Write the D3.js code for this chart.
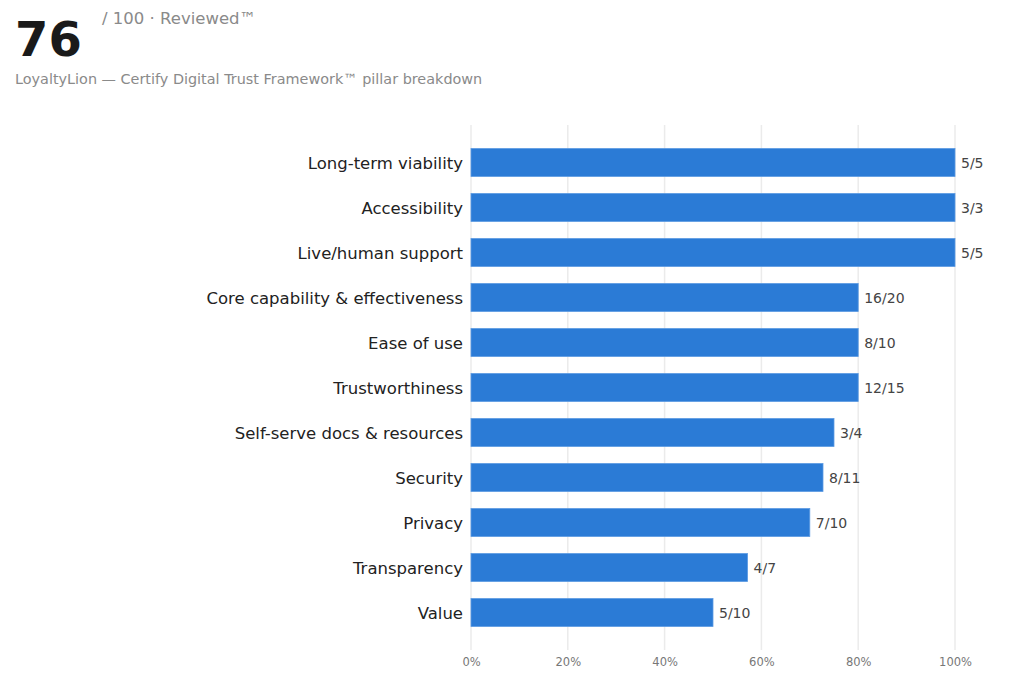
<!DOCTYPE html>
<html>
<head>
<meta charset="utf-8">
<script src="https://cdn.jsdelivr.net/npm/d3@7"></script>
<style>
  body { margin: 0; background: #fff; }
  svg text { font-family: "DejaVu Sans", sans-serif; }
  .score { font-size: 48px; font-weight: bold; fill: #1a1a1a; }
  .scoreNote { font-size: 16.5px; fill: #8a8a8a; }
  .subtitle { font-size: 14.4px; fill: #8a8a8a; }
  .pillarLabel { font-size: 16.5px; fill: #222; }
  .valueLabel { font-size: 14px; fill: #444; }
  .tickLabel { font-size: 11.5px; fill: #777; }
</style>
</head>
<body>
<div id="chart"></div>
<script>
// pillar names, top to bottom
var pillars = ["Long-term viability", "Accessibility", "Live/human support",
    "Core capability & effectiveness", "Ease of use", "Trustworthiness",
    "Self-serve docs & resources", "Security", "Privacy", "Transparency", "Value"];
var earned = [5, 3, 5, 16, 8, 12, 3, 8, 7, 4, 5];
var possible = [5, 3, 5, 20, 10, 15, 4, 11, 10, 7, 10];
var tickValues = [0, 20, 40, 60, 80, 100];

var width = 1024, height = 693;
var margin = {top: 125, right: 69, bottom: 43, left: 471};

var svg = d3.select("#chart").append("svg")
    .attr("width", width)
    .attr("height", height);

// header
svg.append("text").attr("class", "score").attr("x", 15).attr("y", 56).text("76");
svg.append("text").attr("class", "scoreNote").attr("x", 102).attr("y", 24).text("/ 100 · Reviewed™");
svg.append("text").attr("class", "subtitle").attr("x", 15).attr("y", 84)
    .text("LoyaltyLion — Certify Digital Trust Framework™ pillar breakdown");

var x = d3.scaleLinear()
    .domain([0, 100])
    .range([margin.left, width - margin.right]);

var y = d3.scaleBand()
    .domain(pillars)
    .range([margin.top, height - margin.bottom])
    .paddingInner(0.378)
    .paddingOuter(0.522);

// grid lines
svg.append("g").selectAll("line")
    .data(tickValues)
    .enter()
    .append("line")
    .attr("x1", function(d){ return x(d); })
    .attr("x2", function(d){ return x(d); })
    .attr("y1", margin.top)
    .attr("y2", height - margin.bottom)
    .attr("stroke", "#ebebeb")
    .attr("stroke-width", 1.5);

// x axis labels
var xAxis = d3.axisBottom(x)
    .tickValues(tickValues)
    .tickSize(0)
    .tickPadding(0)
    .tickFormat(function(d){ return d + "%"; });

var gx = svg.append("g")
    .attr("transform", "translate(0," + (height - margin.bottom + 8) + ")")
    .call(xAxis)
    .attr("font-family", null)
    .attr("font-size", null);
gx.select(".domain").remove();
gx.selectAll("text").attr("class", "tickLabel").attr("fill", null);

// y axis labels
var yAxis = d3.axisLeft(y).tickSize(0).tickPadding(8);
var gy = svg.append("g")
    .attr("transform", "translate(" + margin.left + ",0)")
    .call(yAxis)
    .attr("font-family", null)
    .attr("font-size", null);
gy.select(".domain").remove();
gy.selectAll("text").attr("class", "pillarLabel").attr("fill", null).attr("dy", "0.4em");

var rows = pillars.map(function(p, i){
    return {name: p, earned: earned[i], possible: possible[i], pct: 100 * earned[i] / possible[i]};
});

// bars
svg.append("g").selectAll("rect")
    .data(rows)
    .enter()
    .append("rect")
    .attr("x", x(0))
    .attr("y", function(d){ return y(d.name); })
    .attr("width", function(d){ return x(d.pct) - x(0); })
    .attr("height", y.bandwidth())
    .attr("fill", "#2b7bd6")
    .attr("stroke", "#5c9be3")
    .attr("stroke-width", 0.8);

// value labels
svg.append("g").selectAll("text")
    .data(rows)
    .enter()
    .append("text")
    .attr("class", "valueLabel")
    .attr("x", function(d){ return x(d.pct) + 6; })
    .attr("y", function(d){ return y(d.name) + y.bandwidth() / 2; })
    .attr("dy", "0.4em")
    .text(function(d){ return d.earned + "/" + d.possible; });
</script>
</body>
</html>
